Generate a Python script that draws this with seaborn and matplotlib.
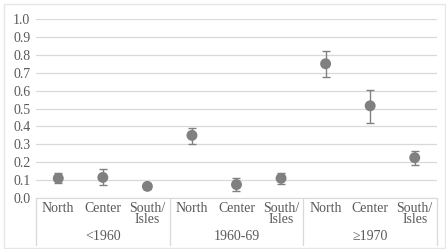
import numpy as np
import pandas as pd
import seaborn as sns
from matplotlib import pyplot as plt
from matplotlib.patches import Rectangle

regions = ['North', 'Center', 'South/\nIsles']
cohorts = ['<1960', '1960-69', '≥1970']

share = [0.11, 0.115, 0.065, 0.35, 0.075, 0.11, 0.75, 0.515, 0.225]
low = [0.085, 0.07, 0.05, 0.30, 0.04, 0.08, 0.675, 0.42, 0.185]
high = [0.14, 0.16, 0.08, 0.39, 0.11, 0.14, 0.82, 0.605, 0.265]

df = pd.DataFrame({
    'pos': np.arange(len(share)),
    'region': regions * len(cohorts),
    'cohort': np.repeat(cohorts, len(regions)),
    'share': share,
    'low': low,
    'high': high,
})

sns.set_style('white')
plt.rcParams['font.family'] = ['Liberation Serif', 'DejaVu Serif']

txt = '#595959'
fig = plt.figure(figsize=(4.46, 2.49), dpi=100)
ax = fig.add_axes([36 / 446, 1 - 198 / 249, 401 / 446, 179 / 249])

yerr = [df['share'] - df['low'], df['high'] - df['share']]
ax.errorbar(df['pos'], df['share'], yerr=yerr, fmt='none', ecolor='#808080',
            elinewidth=1, capsize=3, capthick=1, zorder=3)
sns.scatterplot(data=df, x='pos', y='share', ax=ax, color='#808080', s=62,
                edgecolor='none', zorder=4, legend=False)

ax.set_xlim(-0.5, 8.5)
ax.set_ylim(0, 1.0)
ax.set_yticks(np.arange(0, 1.01, 0.1))
ax.set_yticklabels([f'{v:.1f}' for v in np.arange(0, 1.01, 0.1)], color=txt, fontsize=10)
ax.yaxis.grid(True, color='#d9d9d9', linewidth=0.9)
ax.set_axisbelow(True)
ax.tick_params(axis='y', length=0, pad=4)
ax.tick_params(axis='x', length=0, pad=3)
ax.set_xticks(df['pos'])
ax.set_xticklabels(df['region'], color=txt, fontsize=10, linespacing=0.8, va='top')
for s in ['top', 'right', 'left']:
    ax.spines[s].set_visible(False)
ax.spines['bottom'].set_color('#d9d9d9')

for i, c in enumerate(cohorts):
    ax.text(i * 3 + 1, -0.215, c, ha='center', va='center', color=txt, fontsize=10)
for x in [-0.5, 2.5, 5.5, 8.5]:
    ax.plot([x, x], [0, -0.262], color='#d9d9d9', linewidth=0.9, clip_on=False)

fig.patches.append(Rectangle((4 / 446, 1 / 249), 441 / 446, 244 / 249,
                             transform=fig.transFigure, fill=False,
                             edgecolor='#e6e6e6', linewidth=1))

ax.set_xlabel('')
ax.set_ylabel('')
fig.savefig('out.png', dpi=100)
